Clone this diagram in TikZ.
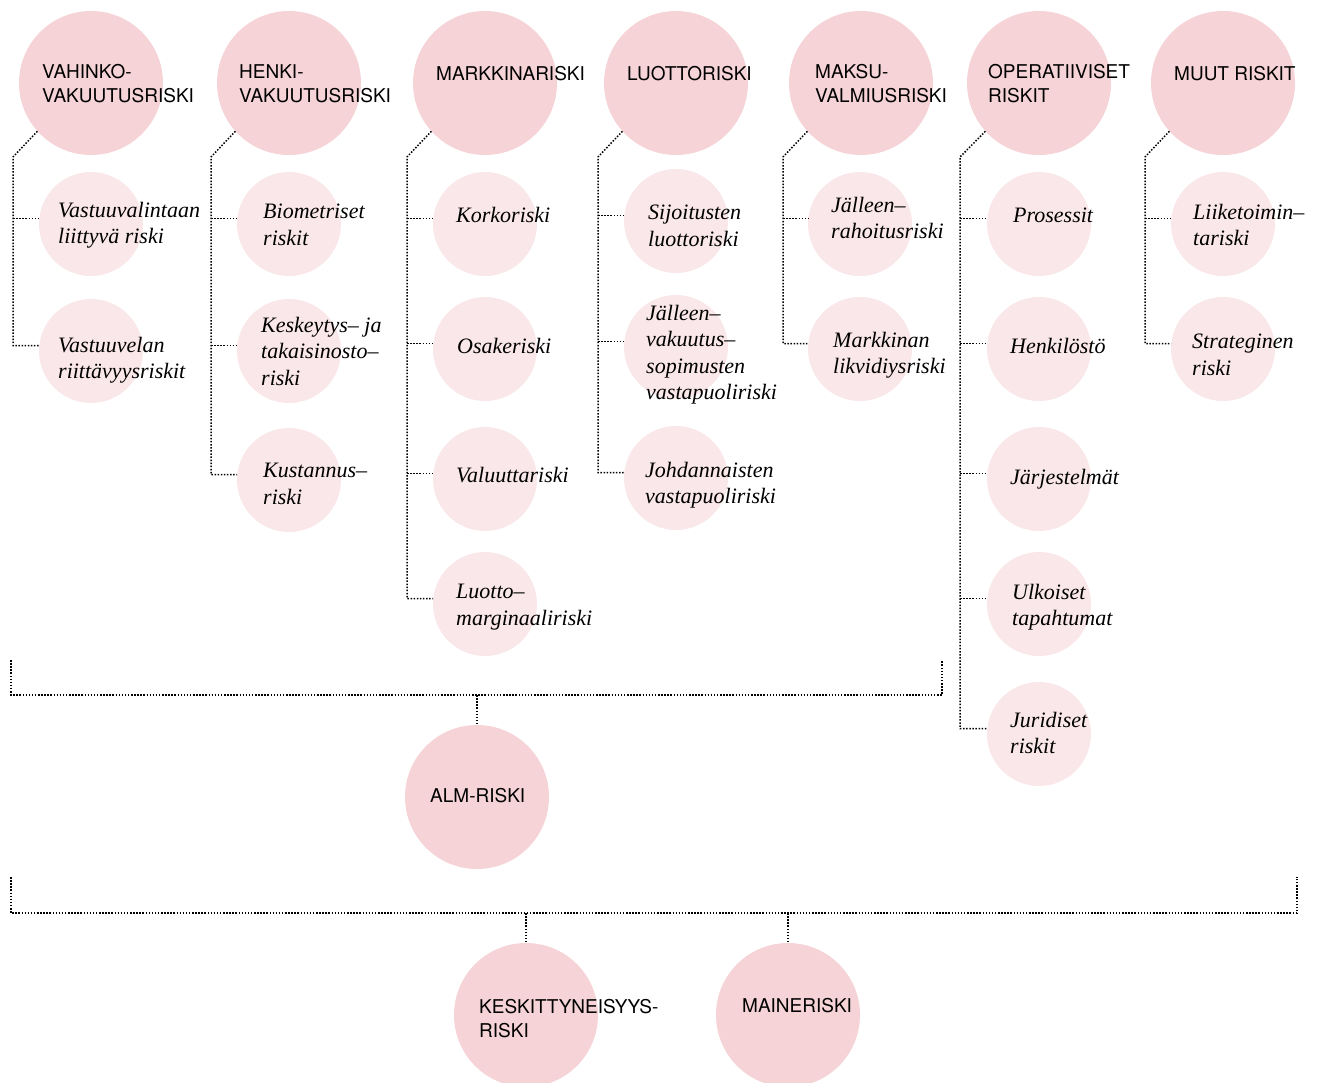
\documentclass[tikz,border=0pt]{standalone}
\usepackage{fontspec}
\setmainfont{Liberation Serif}
\newfontfamily\labsans{TeX Gyre Heros}
\usetikzlibrary{calc}
\definecolor{bigpink}{RGB}{245,211,214}
\definecolor{smallpink}{RGB}{250,231,233}
\tikzset{
  bigc/.style={circle, fill=bigpink, minimum size=144pt, inner sep=0pt},
  smallc/.style={circle, fill=smallpink, minimum size=104pt, inner sep=0pt},
  caplab/.style={anchor=north west, inner sep=0pt, align=left,
    font=\labsans\fontsize{19}{24}\selectfont,
    execute at begin node={\rule{0pt}{16pt}}},
  itlab/.style={anchor=north west, inner sep=0pt, align=left,
    font=\itshape\fontsize{22}{26.5}\selectfont,
    execute at begin node={\rule{0pt}{18pt}}},
  link/.style={draw=black, line width=1.5pt, dash pattern=on 1.5pt off 1.6pt},
}
\begin{document}
\begin{tikzpicture}[x=1pt,y=-1pt]
\useasboundingbox (0,0) rectangle (1319,1082);
\clip (0,0) rectangle (1319,1082);

% main risk categories
\node[bigc] (bA) at (91,83) {};
\node[bigc] (bB) at (289,83) {};
\node[bigc] (bC) at (485,83) {};
\node[bigc] (bD) at (676,83) {};
\node[bigc] (bE) at (861,83) {};
\node[bigc] (bF) at (1039,83) {};
\node[bigc] (bG) at (1223,83) {};
\node[bigc] (alm) at (477,797) {};
\node[bigc] (kesk) at (526,1015) {};
\node[bigc] (maine) at (788,1015) {};

% sub-risks
\node[smallc] (a1) at (91,224) {};
\node[smallc] (a2) at (91,351) {};
\node[smallc] (b1) at (289,224) {};
\node[smallc] (b2) at (289,351) {};
\node[smallc] (b3) at (289,480) {};
\node[smallc] (c1) at (485,224) {};
\node[smallc] (c2) at (485,349) {};
\node[smallc] (c3) at (485,479) {};
\node[smallc] (c4) at (485,604) {};
\node[smallc] (d1) at (676,221) {};
\node[smallc] (d2) at (676,347) {};
\node[smallc] (d3) at (676,478) {};
\node[smallc] (e1) at (860,224) {};
\node[smallc] (e2) at (860,349) {};
\node[smallc] (f1) at (1039,224) {};
\node[smallc] (f2) at (1039,349) {};
\node[smallc] (f3) at (1039,479) {};
\node[smallc] (f4) at (1039,604) {};
\node[smallc] (f5) at (1039,734) {};
\node[smallc] (g1) at (1223,224) {};
\node[smallc] (g2) at (1223,349) {};

% category labels
\node[caplab] (tA) at (42,64) {VAHINKO-\\VAKUUTUSRISKI};
\node[caplab] (tB) at (239,64) {HENKI-\\VAKUUTUSRISKI};
\node[caplab] (tC) at (436,64) {MARKKINARISKI};
\node[caplab] (tD) at (627,64) {LUOTTORISKI};
\node[caplab] (tE) at (815,64) {MAKSU-\\VALMIUSRISKI};
\node[caplab] (tF) at (988,64) {OPERATIIVISET\\RISKIT};
\node[caplab] (tG) at (1174,64) {MUUT RISKIT};
\node[caplab] (talm) at (430,786) {ALM-RISKI};
\node[caplab] (tkesk) at (479,999) {KESKITTYNEISYYS-\\RISKI};
\node[caplab] (tmaine) at (742,996) {MAINERISKI};

% sub-risk labels
\node[itlab] (ta1) at (58,202) {Vastuuvalintaan\\liittyvä riski};
\node[itlab] (ta2) at (58,337) {Vastuuvelan\\riittävyysriskit};
\node[itlab] (tb1) at (263,204) {Biometriset\\riskit};
\node[itlab] (tb2) at (261,317) {Keskeytys– ja\\takaisinosto–\\riski};
\node[itlab] (tb3) at (263,463) {Kustannus–\\riski};
\node[itlab] (tc1) at (456,204) {Korkoriski};
\node[itlab] (tc2) at (457,335) {Osakeriski};
\node[itlab] (tc3) at (456,464) {Valuuttariski};
\node[itlab] (tc4) at (456,584) {Luotto–\\marginaaliriski};
\node[itlab] (td1) at (648,205) {Sijoitusten\\luottoriski};
\node[itlab] (td2) at (646,305) {Jälleen–\\vakuutus–\\sopimusten\\vastapuoliriski};
\node[itlab] (td3) at (645,462) {Johdannaisten\\vastapuoliriski};
\node[itlab] (te1) at (831,197) {Jälleen–\\rahoitusriski};
\node[itlab] (te2) at (833,332) {Markkinan\\likvidiysriski};
\node[itlab] (tf1) at (1013,204) {Prosessit};
\node[itlab] (tf2) at (1010,335) {Henkilöstö};
\node[itlab] (tf3) at (1010,466) {Järjestelmät};
\node[itlab] (tf4) at (1012,584) {Ulkoiset\\tapahtumat};
\node[itlab] (tf5) at (1010,712) {Juridiset\\riskit};
\node[itlab] (tg1) at (1193,204) {Liiketoimin–\\tariski};
\node[itlab] (tg2) at (1192,334) {Strateginen\\riski};

% column connectors
\coordinate (kA) at (13,157);
\coordinate (kB) at (211,157);
\coordinate (kC) at (407,157);
\coordinate (kD) at (598,157);
\coordinate (kE) at (783,157);
\coordinate (kF) at (960,157);
\coordinate (kG) at (1145,157);

\draw[link] (bA.222) -- (kA) |- (a2.174);
\draw[link] (kA |- a1.174) -- (a1.174);

\draw[link] (bB.222) -- (kB) |- (b3.174);
\draw[link] (kB |- b1.174) -- (b1.174);
\draw[link] (kB |- b2.174) -- (b2.174);

\draw[link] (bC.222) -- (kC) |- (c4.174);
\draw[link] (kC |- c1.174) -- (c1.174);
\draw[link] (kC |- c2.174) -- (c2.174);
\draw[link] (kC |- c3.174) -- (c3.174);

\draw[link] (bD.222) -- (kD) |- (d3.174);
\draw[link] (kD |- d1.174) -- (d1.174);
\draw[link] (kD |- d2.174) -- (d2.174);

\draw[link] (bE.222) -- (kE) |- (e2.174);
\draw[link] (kE |- e1.174) -- (e1.174);

\draw[link] (bF.222) -- (kF) |- (f5.174);
\draw[link] (kF |- f1.174) -- (f1.174);
\draw[link] (kF |- f2.174) -- (f2.174);
\draw[link] (kF |- f3.174) -- (f3.174);
\draw[link] (kF |- f4.174) -- (f4.174);

\draw[link] (bG.222) -- (kG) |- (g2.174);
\draw[link] (kG |- g1.174) -- (g1.174);

% grouping brackets
\coordinate (u1) at (11,660);
\coordinate (u2) at (11,695);
\coordinate (u3) at (942,695);
\coordinate (u4) at (942,660);
\coordinate (um) at (477,695);
\draw[link] (u1) -- (u2) -- (u3) -- (u4);
\draw[link] (um) -- (alm.north);

\coordinate (v1) at (11,877);
\coordinate (v2) at (11,913);
\coordinate (v3) at (1297,913);
\coordinate (v4) at (1297,877);
\coordinate (vk) at (526,913);
\coordinate (vm) at (788,913);
\draw[link] (v1) -- (v2) -- (v3) -- (v4);
\draw[link] (vk) -- (kesk.north);
\draw[link] (vm) -- (maine.north);
\end{tikzpicture}
\end{document}
